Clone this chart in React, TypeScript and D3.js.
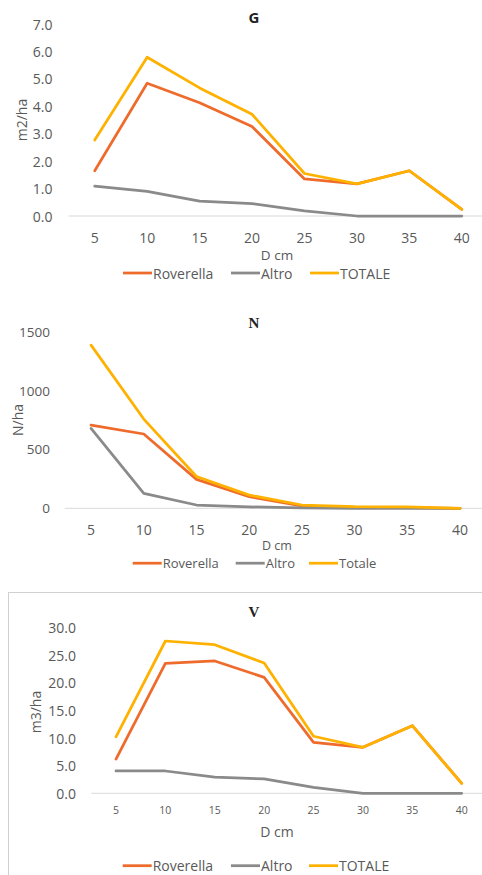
import React, { useEffect } from "react";
import * as d3 from "d3";

const categories = ["5", "10", "15", "20", "25", "30", "35", "40"];

const gRoverella = [1.65, 4.84, 4.13, 3.26, 1.35, 1.17, 1.65, 0.24];
const gAltro = [1.09, 0.9, 0.54, 0.45, 0.19, 0, 0, 0];
const gTotale = [2.77, 5.79, 4.67, 3.71, 1.55, 1.17, 1.65, 0.24];
const gTicks = [0, 1, 2, 3, 4, 5, 6, 7];

const nRoverella = [707, 631, 246, 98, 20, 6, 5, 0];
const nAltro = [679, 127, 28, 12, 3, 0, 0, 0];
const nTotale = [1386, 758, 270, 112, 28, 14, 12, 0];
const nTicks = [0, 500, 1000, 1500];

const vRoverella = [6.2, 23.55, 23.97, 21.0, 9.24, 8.33, 12.25, 1.81];
const vAltro = [4.04, 4.04, 2.95, 2.6, 1.09, 0, 0, 0];
const vTotale = [10.24, 27.59, 26.92, 23.6, 10.33, 8.33, 12.25, 1.81];
const vTicks = [0, 5, 10, 15, 20, 25, 30];

const COLORS = { rov: "#EE6B2C", alt: "#8A8A8A", tot: "#FFB100" };
const TEXT = "#595959";
const FONT = "'Open Sans', sans-serif";

type ChartProps = {
  title: string;
  titleFont: string;
  titleY: number;
  yLabel: string;
  yLabelX: number;
  yLabelY: number;
  ticks: number[];
  fmt: string;
  x0: number;
  x1: number;
  y0: number;
  yTop: number;
  tickRight: number;
  yTickSize: number;
  xTickY: number;
  xTickSize: number;
  xTitleY: number;
  xTitleSize: number;
  legendY: number;
  legendSize: number;
  legendX: number[];
  names: string[];
  series: number[][];
};

function Chart(p: ChartProps) {
  const x = d3.scaleBand<string>().domain(categories).range([p.x0, p.x1]).padding(0);
  const maxT = p.ticks[p.ticks.length - 1];
  const y = d3.scaleLinear().domain([0, maxT]).range([p.y0, p.yTop]);
  const f = d3.format(p.fmt);
  const line = d3
    .line<number>()
    .x((_, i) => (x(categories[i]) as number) + x.bandwidth() / 2)
    .y((d) => y(d));
  const colors = [COLORS.rov, COLORS.alt, COLORS.tot];
  return (
    <g>
      <text
        x={254}
        y={p.titleY}
        textAnchor="middle"
        dominantBaseline="central"
        fontFamily={p.titleFont}
        fontWeight="bold"
        fontSize={15}
        fill="#222"
      >
        {p.title}
      </text>
      {p.ticks.map((t) => (
        <text
          key={t}
          x={p.tickRight}
          y={y(t)}
          textAnchor="end"
          dominantBaseline="central"
          fontFamily={FONT}
          fontSize={p.yTickSize}
          fill={TEXT}
        >
          {f(t)}
        </text>
      ))}
      <text
        transform={`translate(${p.yLabelX},${p.yLabelY}) rotate(-90)`}
        textAnchor="middle"
        dominantBaseline="central"
        fontFamily={FONT}
        fontSize={14}
        fill={TEXT}
      >
        {p.yLabel}
      </text>
      <line x1={p.x0} x2={p.x1} y1={y(0)} y2={y(0)} stroke="#D9D9D9" strokeWidth={1} />
      {categories.map((c) => (
        <text
          key={c}
          x={(x(c) as number) + x.bandwidth() / 2}
          y={p.xTickY}
          textAnchor="middle"
          dominantBaseline="central"
          fontFamily={FONT}
          fontSize={p.xTickSize}
          fill={TEXT}
        >
          {c}
        </text>
      ))}
      <text
        x={277}
        y={p.xTitleY}
        textAnchor="middle"
        dominantBaseline="central"
        fontFamily={FONT}
        fontSize={p.xTitleSize}
        fill={TEXT}
      >
        D cm
      </text>
      {p.series.map((s, i) => (
        <path
          key={i}
          d={line(s) || ""}
          fill="none"
          stroke={colors[i]}
          strokeWidth={2.75}
          strokeLinejoin="round"
          strokeLinecap="round"
        />
      ))}
      {p.names.map((n, i) => (
        <g key={n}>
          <line
            x1={p.legendX[i]}
            x2={p.legendX[i] + 29}
            y1={p.legendY}
            y2={p.legendY}
            stroke={colors[i]}
            strokeWidth={2.75}
          />
          <text
            x={p.legendX[i] + 30}
            y={p.legendY}
            dominantBaseline="central"
            fontFamily={FONT}
            fontSize={p.legendSize}
            fill={TEXT}
          >
            {n}
          </text>
        </g>
      ))}
    </g>
  );
}

export default function App() {
  useEffect(() => {
    document.body.style.margin = "0";
  }, []);
  return (
    <svg
      width={482}
      height={875}
      style={{ position: "absolute", left: 0, top: 0, display: "block", background: "#fff" }}
    >
      <rect x={0} y={0} width={482} height={875} fill="#fff" />
      <Chart
        title="G"
        titleFont="'Open Sans', sans-serif"
        titleY={17}
        yLabel="m2/ha"
        yLabelX={21}
        yLabelY={120}
        ticks={gTicks}
        fmt=".1f"
        x0={68.5}
        x1={488}
        y0={216}
        yTop={24}
        tickRight={52.5}
        yTickSize={14}
        xTickY={237}
        xTickSize={14}
        xTitleY={254.5}
        xTitleSize={13.5}
        legendY={273}
        legendSize={14}
        legendX={[123, 231, 310]}
        names={["Roverella", "Altro", "TOTALE"]}
        series={[gRoverella, gAltro, gTotale]}
      />
      <Chart
        title="N"
        titleFont="'Liberation Serif', 'Times New Roman', serif"
        titleY={322.7}
        yLabel="N/ha"
        yLabelX={17}
        yLabelY={420}
        ticks={nTicks}
        fmt="d"
        x0={64.7}
        x1={486.4}
        y0={508.3}
        yTop={331.7}
        tickRight={50}
        yTickSize={13.5}
        xTickY={529}
        xTickSize={14}
        xTitleY={545.5}
        xTitleSize={12.5}
        legendY={563.2}
        legendSize={13}
        legendX={[132.7, 235.7, 309]}
        names={["Roverella", "Altro", "Totale"]}
        series={[nRoverella, nAltro, nTotale]}
      />
      <rect x={8.5} y={592.5} width={480} height={290} fill="none" stroke="#D0D0D0" strokeWidth={1} />
      <Chart
        title="V"
        titleFont="'Liberation Serif', 'Times New Roman', serif"
        titleY={611.7}
        yLabel="m3/ha"
        yLabelX={35}
        yLabelY={712}
        ticks={vTicks}
        fmt=".1f"
        x0={91.3}
        x1={486.4}
        y0={793.3}
        yTop={627.7}
        tickRight={76}
        yTickSize={14}
        xTickY={810}
        xTickSize={10.5}
        xTitleY={831.7}
        xTitleSize={14}
        legendY={865.7}
        legendSize={14}
        legendX={[122.7, 231, 309]}
        names={["Roverella", "Altro", "TOTALE"]}
        series={[vRoverella, vAltro, vTotale]}
      />
    </svg>
  );
}
